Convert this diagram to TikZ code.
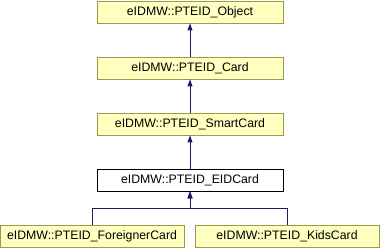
\documentclass[tikz,border=0pt]{standalone}
\usepackage{fontspec}
\setmainfont{Liberation Sans}
\usetikzlibrary{arrows.meta,positioning,calc}
\definecolor{boxfill}{HTML}{FFFFC0}
\definecolor{boxline}{HTML}{9A9A50}
\definecolor{edgeblue}{HTML}{191970}

\begin{document}
\begin{tikzpicture}[x=1bp, y=-1bp,
    classbox/.style={draw=boxline, fill=boxfill, line width=0.9bp, minimum width=186bp, minimum height=22bp,
        inner sep=0pt, font=\fontsize{12.3bp}{14bp}\selectfont},
    leafbox/.style={classbox, minimum width=184bp},
    inherit/.style={edgeblue, line width=1bp, -{Triangle[length=7bp,width=5bp]}}]
    \useasboundingbox (0,0) rectangle (380,248);

    % Class chain, top to bottom
    \node[classbox] (obj) at (190,12) {eIDMW::PTEID\_Object};
    \node[classbox] (card) at (190,68) {eIDMW::PTEID\_Card};
    \node[classbox] (smart) at (190,124) {eIDMW::PTEID\_SmartCard};
    \node[classbox, draw=black, fill=white] (eid) at (190,180) {eIDMW::PTEID\_EIDCard};

    % Derived cards
    \node[leafbox] (foreign) at (92,236) {eIDMW::PTEID\_ForeignerCard};
    \node[leafbox] (kids) at (287,236) {eIDMW::PTEID\_KidsCard};

    % Inheritance edges
    \draw[inherit] (card) -- (obj);
    \draw[inherit] (smart) -- (card);
    \draw[inherit] (eid) -- (smart);

    \coordinate (split) at (190,208);
    \draw[inherit] (foreign.north) |- (split) -- (eid.south);
    \draw[inherit] (kids.north) |- (split) -- (eid.south);
\end{tikzpicture}
\end{document}
